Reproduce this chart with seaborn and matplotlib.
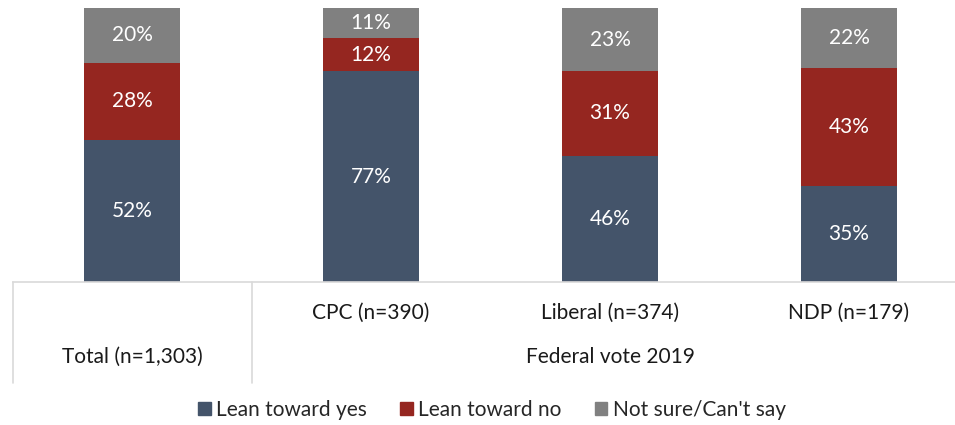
import matplotlib
matplotlib.use("Agg")
import matplotlib.pyplot as plt
import matplotlib.transforms as mtransforms
from matplotlib.patches import Patch
import pandas as pd
import seaborn as sns

categories = ["Total (n=1,303)", "CPC (n=390)", "Liberal (n=374)", "NDP (n=179)"]
lean_yes = [52, 77, 46, 35]
lean_no = [28, 12, 31, 43]
not_sure = [20, 11, 23, 22]
series_names = ["Lean toward yes", "Lean toward no", "Not sure/Can't say"]
group_label = "Federal vote 2019"

colors = ["#44546a", "#952620", "#808080"]
fs = 15

sns.set_theme(style="white")
plt.rcParams["font.family"] = ["Lato", "DejaVu Sans"]

df = pd.DataFrame({"cat": categories, "yes": lean_yes, "no": lean_no, "ns": not_sure})
df["top_no"] = df["yes"] + df["no"]
df["top_ns"] = df["top_no"] + df["ns"]

fig = plt.figure(figsize=(9.55, 4.25), dpi=100)
W, H = 955, 425
ax = fig.add_axes([12.5 / W, 1 - 282 / H, 956 / W, 274 / H])

# overlay cumulative bars, tallest first
for col, c in zip(["top_ns", "top_no", "yes"], colors[::-1]):
    sns.barplot(data=df, x="cat", y=col, color=c, width=0.4, saturation=1,
                ax=ax, linewidth=0, errorbar=None)

ax.set_xlim(-0.5, 3.5)
ax.set_ylim(0, 100)
ax.set_xlabel("")
ax.set_ylabel("")
ax.set_xticks([])
ax.set_yticks([])
for s in ["top", "right", "left"]:
    ax.spines[s].set_visible(False)
ax.spines["bottom"].set_color("#d9d9d9")
ax.spines["bottom"].set_linewidth(1.2)

# segment labels
for i in range(len(categories)):
    mids = [lean_yes[i] / 2,
            lean_yes[i] + lean_no[i] / 2,
            lean_yes[i] + lean_no[i] + not_sure[i] / 2]
    for m, v in zip(mids, [lean_yes[i], lean_no[i], not_sure[i]]):
        ax.text(i, m, f"{v}%", ha="center", va="center", color="white", fontsize=fs)

# table-style category axis
trans = mtransforms.blended_transform_factory(ax.transData, fig.transFigure)
y_bot = 1 - 383 / H
for xv in [-0.5, 0.5]:
    ax.plot([xv, xv], [1 - 282 / H, y_bot], transform=trans, color="#d9d9d9",
            lw=1.2, clip_on=False)
for i in range(1, 4):
    ax.text(i, 1 - 313 / H, categories[i], transform=trans, ha="center", va="center",
            fontsize=fs, color="#1a1a1a")
ax.text(0, 1 - 357 / H, categories[0], transform=trans, ha="center", va="center",
        fontsize=fs, color="#1a1a1a")
ax.text(2, 1 - 357 / H, group_label, transform=trans, ha="center", va="center",
        fontsize=fs, color="#1a1a1a")

handles = [Patch(color=c, label=n) for c, n in zip(colors, series_names)]
fig.legend(handles=handles, loc="center", bbox_to_anchor=(492 / W, 1 - 410 / H),
           ncol=3, frameon=False, fontsize=fs, handlelength=0.6, handleheight=0.6,
           handletextpad=0.25, columnspacing=1.6)

fig.savefig("out.png", dpi=100)
